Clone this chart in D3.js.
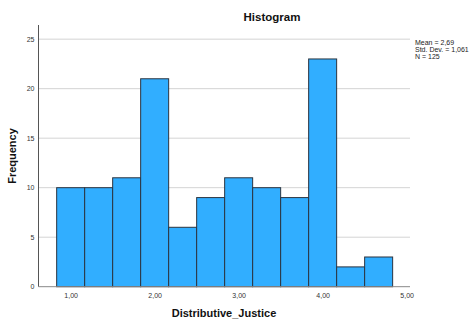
<!DOCTYPE html>
<html>
<head>
<meta charset="utf-8">
<script src="https://cdn.jsdelivr.net/npm/d3@7"></script>
<style>
  html, body { margin: 0; padding: 0; background: #fff; }
  svg { display: block; font-family: "Liberation Sans", Arial, sans-serif; }
</style>
</head>
<body>
<svg id="chart" width="469" height="320"></svg>
<script>
// Histogram bins (bin width 1/3) and frequencies
const binStarts = [0.8333, 1.1667, 1.5, 1.8333, 2.1667, 2.5, 2.8333, 3.1667, 3.5, 3.8333, 4.1667, 4.5];
const binWidth = 1 / 3;
const counts = [10, 10, 11, 21, 6, 9, 11, 10, 9, 23, 2, 3];
const xTicks = [1, 2, 3, 4, 5];
const yTicks = [0, 5, 10, 15, 20, 25];
const statsLines = ["Mean = 2,69", "Std. Dev. = 1,061", "N = 125"];

const svg = d3.select("#chart");
const plotLeft = 38.5, plotRight = 410, plotTop = 25, plotBottom = 286.7;

const x = d3.scaleLinear().domain([0.617, 5.04]).range([plotLeft, plotRight]);
const y = d3.scaleLinear().domain([0, 26.43]).range([plotBottom, plotTop]);

const fmt = d => d.toFixed(2).replace(".", ",");

// gridlines
svg.append("g").selectAll("line")
  .data(yTicks.filter(d => d > 0))
  .join("line")
  .attr("x1", plotLeft).attr("x2", plotRight)
  .attr("y1", d => y(d)).attr("y2", d => y(d))
  .attr("stroke", "#d4d4d4").attr("stroke-width", 1);

// bars
const bars = binStarts.map((s, i) => ({ x0: s, x1: s + binWidth, n: counts[i] }));
svg.append("g").selectAll("rect")
  .data(bars)
  .join("rect")
  .attr("x", d => x(d.x0))
  .attr("y", d => y(d.n))
  .attr("width", d => x(d.x1) - x(d.x0))
  .attr("height", d => y(0) - y(d.n))
  .attr("fill", "#31aeff")
  .attr("stroke", "#2b3440")
  .attr("stroke-width", 1);

// y axis
const yAxis = svg.append("g").attr("transform", `translate(${plotLeft},0)`)
  .call(d3.axisLeft(y).tickValues(yTicks).tickSize(0).tickPadding(4).tickFormat(d3.format("d")));
yAxis.select(".domain").attr("stroke", "#555").attr("d", `M0,${plotTop}V${plotBottom}`);
yAxis.selectAll("text").attr("font-size", 7).attr("fill", "#333")
  .attr("font-family", "Liberation Sans, Arial, sans-serif");

// x axis
const xAxis = svg.append("g").attr("transform", `translate(0,${plotBottom})`)
  .call(d3.axisBottom(x).tickValues(xTicks).tickSize(0).tickPadding(6).tickFormat(fmt));
xAxis.select(".domain").attr("stroke", "#888").attr("d", `M${plotLeft},0H${plotRight}`);
xAxis.selectAll("text").attr("font-size", 7).attr("fill", "#333")
  .attr("font-family", "Liberation Sans, Arial, sans-serif");

// title
svg.append("text")
  .attr("x", 272).attr("y", 21)
  .attr("text-anchor", "middle")
  .attr("font-size", 11.5).attr("font-weight", "bold").attr("fill", "#111")
  .text("Histogram");

// axis titles
svg.append("text")
  .attr("x", 224).attr("y", 317)
  .attr("text-anchor", "middle")
  .attr("font-size", 11).attr("font-weight", "bold").attr("fill", "#111")
  .text("Distributive_Justice");

svg.append("text")
  .attr("transform", "translate(16,156) rotate(-90)")
  .attr("text-anchor", "middle")
  .attr("font-size", 11).attr("font-weight", "bold").attr("fill", "#111")
  .text("Frequency");

// summary statistics
svg.append("g").selectAll("text")
  .data(statsLines)
  .join("text")
  .attr("x", 415)
  .attr("y", (d, i) => 45 + i * 7)
  .attr("font-size", 7).attr("fill", "#222")
  .text(d => d);
</script>
</body>
</html>
